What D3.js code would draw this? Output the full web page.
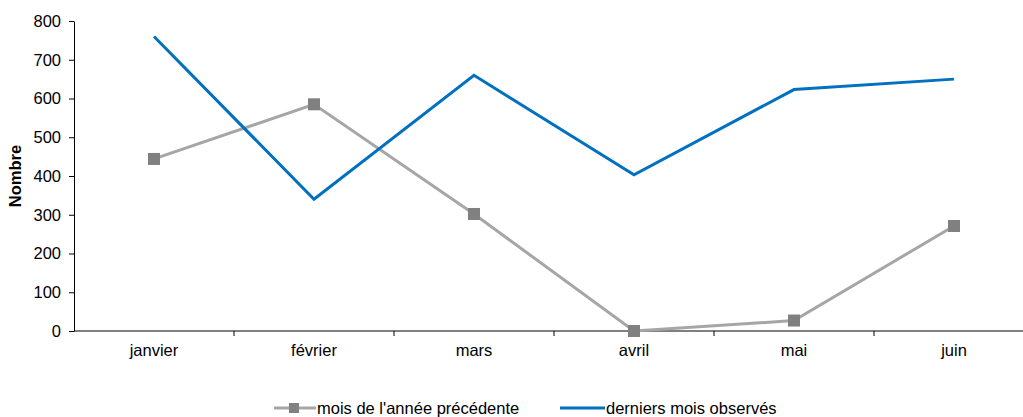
<!DOCTYPE html>
<html lang="fr">
<head>
<meta charset="UTF-8">
<script src="https://d3js.org/d3.v7.min.js"></script>
<style>
  body { margin: 0; padding: 0; background: #fff; }
  svg { display: block; font-family: "Liberation Sans", Arial, sans-serif; }
  .axis text { font-size: 16.5px; fill: #000; }
  .axis path, .axis line { stroke: #000; }
</style>
</head>
<body>
<svg width="1023" height="417"></svg>
<script>
const mois = ["janvier", "février", "mars", "avril", "mai", "juin"];
const anneePrecedente = [444, 585, 302, 0, 27, 271];
const derniersMois = [760, 340, 660, 403, 623, 650];
const yTicks = [0, 100, 200, 300, 400, 500, 600, 700, 800];

const svg = d3.select("svg");
const mLeft = 74, mTop = 21, mBottom = 331, bandW = 160;

const x = d3.scaleBand().domain(mois).range([mLeft, mLeft + bandW * mois.length]);
const y = d3.scaleLinear().domain([0, 800]).range([mBottom, mTop]);

// axe Y
svg.append("g").attr("class", "axis")
  .attr("transform", `translate(${mLeft},0)`)
  .call(d3.axisLeft(y).tickValues(yTicks).tickSize(5).tickSizeOuter(0).tickPadding(8))
  .call(g => g.attr("font-family", null).attr("font-size", null));

// axe X (traits entre les catégories)
const xg = svg.append("g").attr("class", "axis")
  .attr("transform", `translate(0,${mBottom})`);
xg.append("line").attr("x1", mLeft).attr("x2", 1023).attr("stroke", "#000");
xg.selectAll(".sep").data(mois.slice(1)).enter().append("line")
  .attr("x1", d => x(d)).attr("x2", d => x(d))
  .attr("y1", 0).attr("y2", 5).attr("stroke", "#000");
xg.selectAll(".lbl").data(mois).enter().append("text")
  .attr("x", d => x(d) + x.bandwidth() / 2)
  .attr("y", 25)
  .attr("text-anchor", "middle")
  .text(d => d);

svg.append("text")
  .attr("transform", `translate(21,${(mTop + mBottom) / 2}) rotate(-90)`)
  .attr("text-anchor", "middle")
  .attr("font-size", 16.5).attr("font-weight", "bold")
  .text("Nombre");

const cx = d => x(d) + x.bandwidth() / 2;
const line = d3.line().x((d, i) => cx(mois[i])).y(d => y(d));

svg.append("path").datum(anneePrecedente)
  .attr("d", line).attr("fill", "none")
  .attr("stroke", "#A6A6A6").attr("stroke-width", 3);
svg.selectAll(".m").data(anneePrecedente).enter().append("rect")
  .attr("x", (d, i) => cx(mois[i]) - 6).attr("y", d => y(d) - 6)
  .attr("width", 12).attr("height", 12).attr("fill", "#808080");

svg.append("path").datum(derniersMois)
  .attr("d", line).attr("fill", "none")
  .attr("stroke", "#0070C0").attr("stroke-width", 3);

// légende
const lg = svg.append("g").attr("font-size", 16.5);
lg.append("line").attr("x1", 274).attr("x2", 316).attr("y1", 408).attr("y2", 408)
  .attr("stroke", "#A6A6A6").attr("stroke-width", 3);
lg.append("rect").attr("x", 289).attr("y", 403).attr("width", 10).attr("height", 10).attr("fill", "#808080");
lg.append("text").attr("x", 317).attr("y", 414).text("mois de l'année précédente");
lg.append("line").attr("x1", 560).attr("x2", 605).attr("y1", 408).attr("y2", 408)
  .attr("stroke", "#0070C0").attr("stroke-width", 3);
lg.append("text").attr("x", 606).attr("y", 414).text("derniers mois observés");
</script>
</body>
</html>
